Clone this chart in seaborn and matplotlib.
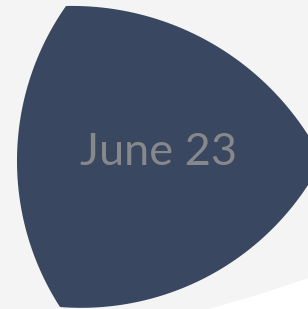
import numpy as np
import matplotlib
matplotlib.use("Agg")
import matplotlib.pyplot as plt
import seaborn as sns
from matplotlib.patches import Polygon

# Dane
labels = ["June 23"]
cell_color = "#3a4760"
text_color = "#86888b"
bg_color = "#f4f4f4"


def arc_through(p0, p1, p2, n=120):
    # okrag przez trzy punkty, zwraca luk od p0 przez p1 do p2
    (x1, y1), (x2, y2), (x3, y3) = p0, p1, p2
    d = 2 * (x1 * (y2 - y3) + x2 * (y3 - y1) + x3 * (y1 - y2))
    ux = ((x1**2 + y1**2) * (y2 - y3) + (x2**2 + y2**2) * (y3 - y1) + (x3**2 + y3**2) * (y1 - y2)) / d
    uy = ((x1**2 + y1**2) * (x3 - x2) + (x2**2 + y2**2) * (x1 - x3) + (x3**2 + y3**2) * (x2 - x1)) / d
    r = np.hypot(x1 - ux, y1 - uy)
    a0 = np.arctan2(y1 - uy, x1 - ux)
    a1 = np.arctan2(y2 - uy, x2 - ux)
    a2 = np.arctan2(y3 - uy, x3 - ux)
    # wybieramy kierunek, ktory przechodzi przez p1
    d02 = (a2 - a0) % (2 * np.pi)
    d01 = (a1 - a0) % (2 * np.pi)
    if d01 > d02:
        d02 = d02 - 2 * np.pi
    t = a0 + np.linspace(0, d02, n)
    return np.column_stack([ux + r * np.cos(t), uy + r * np.sin(t)])


sns.set_theme(style="white")
plt.rcParams['font.family'] = ['Lato', 'DejaVu Sans']

fig = plt.figure(figsize=(3.08, 3.09), dpi=100, facecolor="white")
ax = fig.add_axes([0, 0, 1, 1])
ax.set_xlim(0, 308)
ax.set_ylim(309, 0)
ax.axis("off")

# tlo - jasnoszary obszar z bialym rogiem
edge = arc_through((185, 315), (255, 295.5), (325, 272))
bg = np.vstack([[(-10, -10), (330, -10)], edge[::-1], [(-10, 330)]])
ax.add_patch(Polygon(bg, closed=True, facecolor=bg_color, edgecolor="none"))

# komorka
top = arc_through((66, 6), (190, 32), (308, 135))
bottom = arc_through((308, 185), (190, 285), (60, 307))
left = arc_through((60, 307), (17, 160), (66, 6))
cell = np.vstack([top, bottom, left])
ax.add_patch(Polygon(cell, closed=True, facecolor=cell_color, edgecolor="none"))

ax.text(158, 165, labels[0], color=text_color, fontsize=32.5,
        ha="center", va="baseline")

fig.savefig("out.png", dpi=100, facecolor="white")
